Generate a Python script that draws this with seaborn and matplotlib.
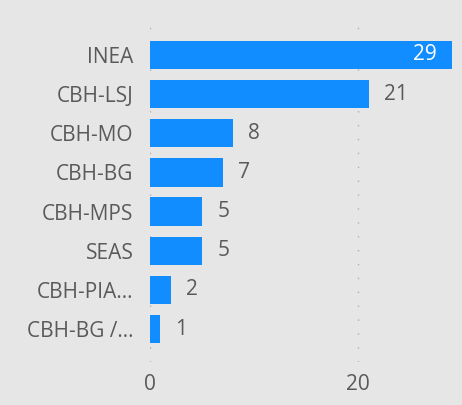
import pandas as pd
import matplotlib.pyplot as plt
import seaborn as sns

# data
orgaos = ['INEA', 'CBH-LSJ', 'CBH-MO', 'CBH-BG', 'CBH-MPS', 'SEAS', 'CBH-PIA...', 'CBH-BG /...']
contagem = [29, 21, 8, 7, 5, 5, 2, 1]
xticks = [0, 20]

df = pd.DataFrame({'orgao': orgaos, 'contagem': contagem})

sns.set_theme(style='white')
plt.rcParams['font.family'] = ['Open Sans', 'DejaVu Sans']

bg = '#e6e6e6'
txt = '#5a5a5a'
fs = 15

fig = plt.figure(figsize=(4.62, 4.05), dpi=100, facecolor=bg)
ax = fig.add_axes([150 / 462, 1 - 362 / 405, 302 / 462, 340 / 405])
ax.set_facecolor(bg)

sns.barplot(data=df, x='contagem', y='orgao', color='#118dff', saturation=1,
            width=0.72, linewidth=0, ax=ax)

ax.set_xlim(0, 29)
ax.set_ylim(7.84, -0.84)
ax.set_xticks(xticks)
ax.set_xticklabels([str(t) for t in xticks])
for x in xticks:
    ax.axvline(x, color='#b0b0b0', lw=1, ls=(0, (1, 9)), zorder=0)

for s in ax.spines.values():
    s.set_visible(False)
ax.tick_params(axis='both', length=0, labelsize=fs, colors=txt)
ax.tick_params(axis='y', pad=12)
ax.tick_params(axis='x', pad=9)
ax.set_ylabel('')
ax.set_xlabel('')

# value labels: inside for the longest bar, outside for the rest
for i, v in enumerate(contagem):
    if v == max(contagem):
        ax.text(v - 1.45, i, str(v), ha='right', va='center', fontsize=fs, color='white')
    else:
        ax.text(v + 1.45, i, str(v), ha='left', va='center', fontsize=fs, color=txt)

fig.savefig('out.png', dpi=100, facecolor=bg)
